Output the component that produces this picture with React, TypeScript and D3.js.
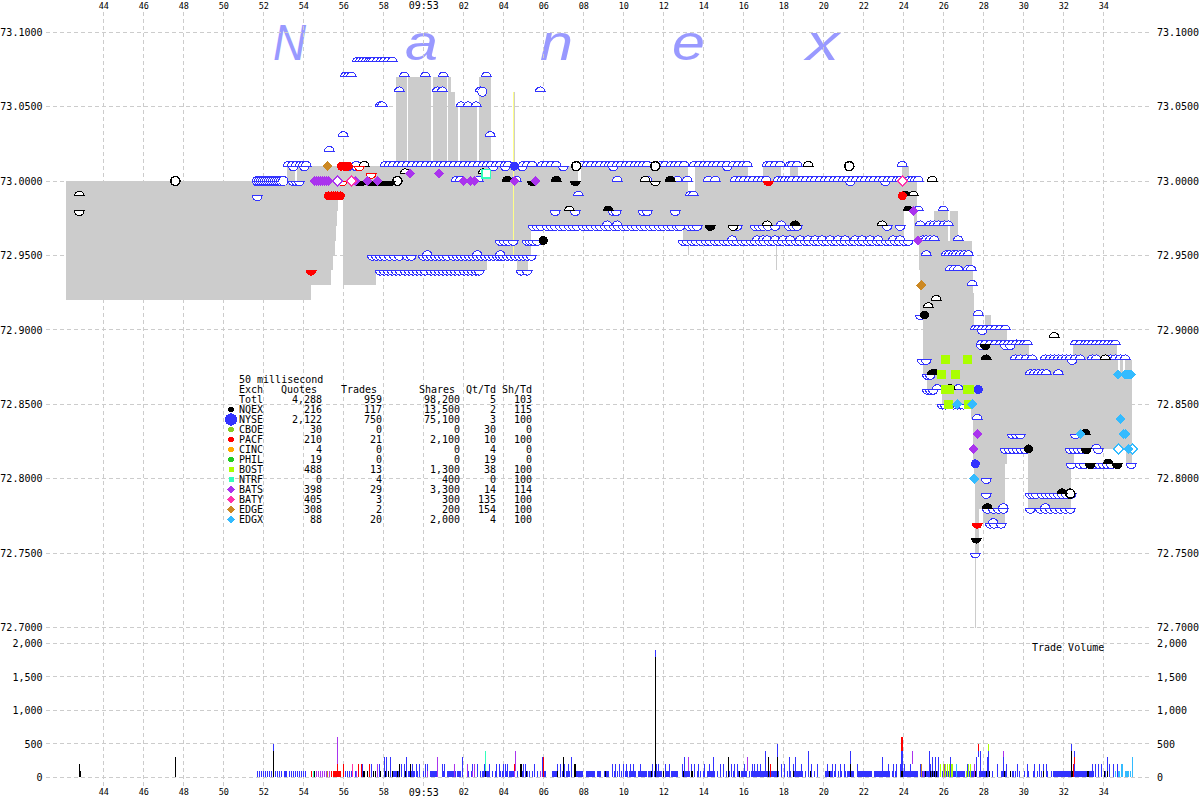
import React, { useEffect, useRef } from "react";
import * as d3 from "d3";

// time is seconds relative to 09:53:00, one pixel column = one 50 ms bucket
const timeTicks = [-16, -14, -12, -10, -8, -6, -4, -2, 0, 2, 4, 6, 8, 10, 12, 14, 16, 18, 20, 22, 24, 26, 28, 30, 32, 34];
const timeLabels = ["44", "46", "48", "50", "52", "54", "56", "58", "09:53", "02", "04", "06", "08", "10", "12", "14", "16", "18", "20", "22", "24", "26", "28", "30", "32", "34"];
const priceTicks = [73.1, 73.05, 73.0, 72.95, 72.9, 72.85, 72.8, 72.75, 72.7];
const volumeTicks = [2000, 1500, 1000, 500, 0];

// best ask / best bid steps
const askSteps: [number, number][] = [
  [-17.85, 73.0], [-6.82, 73.01], [-6.42, 73.0], [-6.32, 73.01], [-1.37, 73.07], [-0.82, 73.01], [-0.77, 73.07],
  [0.38, 73.01], [0.48, 73.07], [1.18, 73.01], [1.23, 73.07], [1.38, 73.06], [1.58, 73.05], [1.73, 73.01],
  [1.83, 73.05], [2.68, 73.01], [2.78, 73.07], [3.38, 73.01], [7.73, 73.0], [7.88, 73.01], [13.23, 72.99],
  [13.58, 73.01], [16.23, 73.0], [16.98, 73.01], [17.88, 73.0], [18.33, 73.01], [18.73, 73.0], [23.93, 73.01],
  [24.28, 73.0], [24.68, 72.97], [25.53, 72.98], [26.23, 72.96], [26.33, 72.98], [26.73, 72.96], [27.43, 72.94],
  [27.5, 72.925], [27.55, 72.9], [28.1, 72.91], [28.4, 72.9], [29.2, 72.89], [30.3, 72.88], [32.5, 72.89],
  [34.7, 72.88], [34.75, 72.87], [34.85, 72.88], [35.0, 72.87], [35.1, 72.88],
];
const bidSteps: [number, number][] = [
  [-17.85, 72.92], [-5.62, 72.93], [-4.62, 72.94], [-4.52, 72.95], [-4.42, 72.96], [-4.37, 72.97], [-4.32, 72.98],
  [-4.25, 72.99], [-4.0, 72.93], [-2.35, 72.94], [3.18, 72.95], [4.68, 72.94], [5.23, 72.95], [5.38, 72.97],
  [12.98, 72.96], [24.03, 72.98], [24.53, 72.96], [24.78, 72.94], [24.83, 72.91], [24.98, 72.87], [25.18, 72.86],
  [25.93, 72.85], [27.4, 72.84], [27.48, 72.81], [27.53, 72.8], [27.6, 72.75], [27.77, 72.78], [28.0, 72.77],
  [29.1, 72.81], [29.17, 72.82], [30.25, 72.78], [32.4, 72.81], [32.55, 72.82], [35.15, 72.81],
];
const spreadEnd = 35.45;

// thin prints outside the spread: [time, low, high]
const spikes: [number, number, number][] = [[27.6, 72.7, 72.75], [13.25, 72.95, 72.96], [17.65, 72.94, 72.96], [26.4, 72.96, 72.98], [26.55, 72.96, 72.98], [4.55, 73.01, 73.06]];
const yellowPrint: [number, number, number] = [4.5, 72.95, 73.06];

const askQuotes: [number, number[]][] = [
  [73.08, [-3.3, -3.15, -3, -2.85, -2.7, -2.6, -2.5, -2.3, -2.1, -1.95, -1.75, -1.55]],
  [73.07, [-3.9, -3.75, -3.6, -0.95, 0.1, 1, 3.15]],
  [73.06, [-1.2, 0.7, 0.95, 2.85, 5.85]],
  [73.05, [-2.15, -2.05, 1.9, 2.25, 2.65]],
  [73.03, [-4, 3.35]],
  [73.02, [-4.7]],
  [73.01, [-6.75, -6.55, -6.35, -6.15, -6, -5.85, -3.35, -1.9, -1.7, -1.5, -1.25, -1.05, -0.8, -0.55, -0.3, -0.1, 0.15, 0.4, 0.6, 0.85, 1.05, 1.3, 1.55, 1.8, 2.05, 2.3, 2.5, 2.75, 3, 3.2, 3.4, 3.65, 3.85, 4.1, 4.25, 5, 5.2, 5.45, 5.95, 6.15, 6.4, 6.65, 7.95, 8.2, 8.4, 8.65, 8.85, 9.1, 9.3, 9.45, 9.7, 9.9, 10.15, 10.35, 10.6, 10.8, 11, 11.2, 11.9, 12.1, 12.4, 12.6, 12.8, 13.05, 13.55, 13.8, 14.05, 14.25, 14.5, 14.7, 14.95, 15.2, 15.5, 15.75, 16, 16.2, 17.2, 17.35, 17.6, 17.85, 18.35, 18.45, 18.7, 23.95]],
  [73.0, [-8.3, -8.2, -8.1, -8, -7.9, -7.8, -7.7, -7.6, -7.5, -7.4, -7.3, -7.2, -7.1, -7, 1.65, 1.85, 2.75, 4.65, 9.7, 11.2, 12.7, 13.2, 14.25, 14.6, 15.6, 15.85, 16.05, 16.3, 16.5, 16.75, 16.95, 17.15, 17.75, 17.95, 18.1, 18.3, 18.45, 18.7, 18.95, 19.15, 19.4, 19.6, 19.85, 20.1, 20.3, 20.55, 20.75, 21, 21.2, 21.45, 21.65, 21.9, 22.1, 22.35, 22.55, 22.8, 23, 23.25, 23.45, 23.7, 23.85, 24.3, 24.45, 24.6, 24.75]],
  [72.99, [7.75, 13.35, 13.5]],
  [72.98, [24.75, 26]],
  [72.97, [9.2, 9.7, 17.2, 17.9, 24.85, 25.35, 25.55, 25.75, 26.05, 26.25]],
  [72.96, [15.45, 16.7, 17, 17.2, 17.6, 18, 18.35, 18.85, 19.25, 19.6, 19.95, 20.35, 20.75, 21.1, 21.6, 21.95, 22.35, 22.75, 23.5, 23.85, 25, 25.15, 25.35, 25.55, 26.75]],
  [72.95, [0.2, 2.7, 3.85, 25.15, 26.15, 26.3, 26.5, 26.65, 26.85, 27.05, 27.25]],
  [72.94, [26.35, 26.55, 26.75, 27.25, 27.4]],
  [72.93, [27.45]],
  [72.91, [27.75]],
  [72.9, [27.6, 27.75, 27.95, 28.15, 28.35, 28.6, 28.85, 29.1]],
  [72.89, [27.9, 28.1, 28.35, 28.6, 28.85, 29.05, 29.25, 29.45, 29.65, 29.85, 30.05, 30.2, 32.6, 32.85, 33.1, 33.25, 33.45, 33.65, 33.85, 34.05, 34.25, 34.45, 34.6]],
  [72.88, [29.6, 29.85, 30.15, 30.45, 31.1, 31.35, 31.55, 31.75, 31.95, 32.15, 32.35, 32.6, 32.85, 33.45, 33.65, 34.35, 34.6, 34.85, 35.1]],
  [72.87, [30.35, 30.55, 30.75, 30.95, 31.15, 31.75]],
  [72.86, [25.7, 26.75]],
  [72.84, [27.7]],
  [72.82, [33.65]],
  [72.78, [29, 31.1]],
  [72.77, [28.5]],
];

const bidQuotes: [number, number[]][] = [
  [73.01, [-6.5, -5.95, -3.75, -3.35, 3.5, 4.1, 4.95, 7, 9.5, 15.2]],
  [73.0, [-6.5, -6.35, -6.2, -8.3, -8.2, -8.1, -8, -7.9, -7.8, -7.7, -7.6, -7.5, -7.4, -7.3, -7.2, -7.1, 21.35, 23.1]],
  [72.99, [-8.3]],
  [72.98, [6.6, 7.6, 9.5, 9.65, 11, 11.2, 12.6]],
  [72.97, [5.5, 5.7, 5.9, 6.2, 6.4, 6.6, 6.85, 7.05, 7.3, 7.5, 7.7, 8, 8.2, 8.4, 8.65, 8.85, 9.1, 9.3, 9.55, 9.75, 10, 10.2, 10.45, 10.65, 10.9, 11.1, 11.35, 11.55, 11.8, 12, 12.25, 12.45, 12.7, 12.85, 13.3, 13.5, 13.7, 15.5, 15.7, 16.6, 16.8, 17, 17.25, 17.6, 18.3, 18.5, 18.7, 23.2, 23.85]],
  [72.96, [3.85, 4.05, 4.25, 4.5, 5.2, 5.35, 5.5, 5.7, 13, 13.2, 13.45, 13.65, 13.9, 14.15, 14.35, 14.6, 14.8, 15.05, 15.25, 15.5, 15.7, 15.95, 16.15, 16.4, 16.6, 16.85, 17.05, 17.3, 17.5, 17.75, 17.95, 18.2, 18.4, 18.65, 18.85, 19.1, 19.3, 19.55, 19.75, 20, 20.2, 20.45, 20.65, 20.9, 21.1, 21.35, 21.55, 21.8, 22, 22.25, 22.45, 22.7, 22.9, 23.15, 23.35, 23.6, 23.8, 24.05, 24.25]],
  [72.95, [-2.55, -2.35, -2.15, -1.95, -1.7, -1.45, -1.2, -0.8, -0.6, 0, 0.2, 0.4, 0.6, 0.8, 1, 1.2, 1.5, 1.7, 1.9, 2.1, 2.3, 2.5, 2.7, 2.9, 3.1, 3.3, 3.5, 3.7, 3.85, 4, 4.2, 4.4, 4.6, 4.8, 5, 5.2, 5.4]],
  [72.94, [-2.15, -1.95, -1.75, -1.55, -1.35, -1.15, -0.9, -0.7, -0.5, -0.3, -0.1, 0.1, 0.4, 0.6, 0.8, 1, 1.2, 1.4, 1.6, 1.8, 2.05, 2.25, 2.45, 2.65, 2.8, 4.9, 5.2]],
  [72.91, [24.85]],
  [72.9, [27.95]],
  [72.89, [27.9, 29.1, 29.35]],
  [72.88, [24.95, 25.15, 32.45]],
  [72.87, [25.2, 25.35]],
  [72.86, [25.2, 25.35, 25.5]],
  [72.85, [25.95, 26.1, 26.5, 26.7, 26.85, 27]],
  [72.83, [29.45, 29.65, 29.85, 32.6]],
  [72.82, [29.1, 29.3, 29.5, 29.7, 29.9, 30.1, 32.35, 32.55, 32.75, 32.95, 33.75]],
  [72.81, [32.4, 32.85, 33.05, 33.6, 33.8, 34, 34.2, 34.4, 35.4]],
  [72.8, [28.15]],
  [72.79, [28.15, 30.35, 30.5, 30.65, 30.95, 31.15, 31.35, 31.55, 31.75, 31.95, 32.15, 32.4]],
  [72.78, [28.2, 28.5, 28.75, 29, 30.35, 30.85, 31.1, 31.35, 31.6, 31.85, 32.1, 32.35]],
  [72.77, [28.35, 28.55, 28.9]],
  [72.75, [27.6]],
];

// NQEX quotes and trades: [time, price]
const nqexAskOpen: [number, number][] = [[-17.2, 72.99], [-2.95, 73.01], [-0.9, 73.005], [3, 73.005], [7.3, 72.98], [11.1, 73], [17.2, 72.97], [22.95, 72.97], [19.25, 73.01], [25.45, 73], [24.5, 72.99], [25.65, 72.92], [25.25, 72.915], [31.55, 72.895], [34.1, 72.88]];
const nqexBidOpen: [number, number][] = [[-17.2, 72.98], [11.6, 73], [15.5, 72.97], [-2.6, 73]];
const nqexAskFilled: [number, number][] = [[4.2, 73], [6.65, 73], [12.35, 73], [9.25, 72.98], [18.6, 72.97], [24.1, 72.99], [24.25, 72.98], [28.15, 72.88], [25.45, 72.87], [25.6, 72.87], [26.35, 72.86], [28.2, 72.78], [31.95, 72.79], [33.1, 72.83], [34.25, 72.81]];
const nqexBidFilled: [number, number][] = [[-3.25, 73], [-3.1, 73], [-2.7, 73], [-2.55, 73], [-2.3, 73], [-2.2, 73], [-2.1, 73], [-2, 73], [-1.9, 73], [-1.8, 73], [-1.65, 73], [14.35, 72.97], [28.1, 72.89], [27.65, 72.76], [33.15, 72.82], [34.7, 72.81], [33.35, 72.81], [5.45, 73], [7.6, 73]];
const nqexDots: [number, number][] = [[25.05, 72.91], [6, 72.96], [30.25, 72.82]];
const nqexRings: [number, number][] = [[-12.4, 73], [-1.3, 73], [7.65, 73.01], [11.6, 73.01], [21.3, 73.01], [32.35, 72.79]];

// PACF
const pacfBidFilled: [number, number][] = [[-5.6, 72.94], [17.25, 73], [27.7, 72.77]];
const pacfBidOpen: [number, number][] = [[-4.05, 73], [-3.2, 73.01], [-2.6, 73.005]];
const pacfDots: [number, number][] = [[-4.75, 72.99], [-4.6, 72.99], [-4.5, 72.99], [-4.4, 72.99], [-4.3, 72.99], [-4.15, 72.99], [-4.1, 73.01], [-3.95, 73.01], [-3.85, 73.01], [-3.75, 73.01], [23.95, 72.99]];

// BATS, BATY, EDGE, EDGX, BOST, NTRF, NYSE trades
const batsTrades: [number, number][] = [[-5.45, 73], [-5.35, 73], [-5.25, 73], [-5.15, 73], [-5.05, 73], [-4.95, 73], [-4.85, 73], [-4.75, 73], [-3.4, 73], [-2.8, 73], [-2.3, 73], [-0.65, 73.005], [0.8, 73.005], [2, 73], [2.35, 73], [2.55, 73], [4.55, 73], [5.6, 73], [24.5, 72.98], [24.75, 72.96], [27.7, 72.83], [27.5, 72.82]];
const batsOpen: [number, number][] = [[-4.3, 73]];
const batyOpen: [number, number][] = [[-3.6, 73], [23.95, 73]];
const edgeTrades: [number, number][] = [[-4.8, 73.01], [24.9, 72.93]];
const edgxTrades: [number, number][] = [[34.75, 72.87], [35.1, 72.87], [35.2, 72.87], [35.3, 72.87], [35.4, 72.87], [34.85, 72.84], [32.85, 72.83], [35.0, 72.83], [35.1, 72.83], [35.25, 72.82], [27.45, 72.85], [27.55, 72.8], [26.7, 72.85]];
const edgxOpen: [number, number][] = [[34.75, 72.82], [35.45, 72.82]];
const bostTrades: [number, number][] = [[26.1, 72.88], [27.2, 72.88], [25.9, 72.87], [26.6, 72.87], [26.1, 72.86], [26.3, 72.86], [27.2, 72.86], [27.3, 72.86], [26.25, 72.85], [27.25, 72.85]];
const ntrfOpen: [number, number][] = [[3.15, 73.005]];
const nyseDots: [number, number][] = [[4.55, 73.01], [27.75, 72.86], [27.6, 72.81]];
const nyseRings: [number, number][] = [[2.95, 73.06], [-7, 73]];

// 100 share NYSE prints, one bucket each
const nyseTicks = [-8.3, -8.2, -8.1, -8, -7.9, -7.8, -7.7, -7.6, -7.4, -7.3, -7.2, -7.1, -6.7, -6.6, -6.5, -6.4, -6.3, -6.2, -6.1, -6, -5.9, -3.9, -3.8, -3.7, -3.6, -3.4, -3.05, -2.95, -2.8, -2.4, -1.9, -1.75, -0.9, -0.3, -0.2, 0, 0.2, 0.35, 1.0, 2.25, 2.4, 2.55, 2.7, 2.85, 3.45, 3.6, 3.85, 3.95, 4.15, 4.7, 4.85, 4.95, 5.1, 5.2, 5.3, 5.45, 5.55, 5.7, 5.85, 6.05, 6.1, 6.85, 6.95, 7.15, 7.25, 7.8, 7.95, 9.45, 9.55, 9.7, 9.8, 9.9, 10, 10.1, 10.2, 10.3, 11.55, 11.9, 12.1, 12.4, 13.4, 13.55, 13.7, 13.85, 14, 14.55, 14.7, 14.85, 15, 15.15, 15.3, 15.5, 15.75, 15.9, 16.05, 16.3, 16.4, 17.75, 18.05, 18.2, 18.35, 19.1, 19.25, 19.4, 19.55, 19.7, 20.55, 20.75, 20.9, 21.1, 21.3, 22.9, 23.1, 23.3, 23.45, 23.6, 25.0, 28.25, 28.45, 28.7, 28.9, 29.1, 29.6, 29.8, 30.05, 30.25, 30.5, 30.7, 30.9, 31.0, 31.2, 31.4, 33.6, 33.75, 33.9, 34.1, 34.3, 34.5];
// solid stretches of 100 share prints: [from, to]
const nyseRuns: [number, number][] = [[-6.95, -6.8], [-1.55, -1.2], [-0.75, -0.4], [0.4, 0.7], [1.2, 1.65], [1.7, 1.9], [2.95, 3.3], [4.3, 4.55], [6.45, 6.7], [7.15, 7.35], [7.55, 8.0], [8.15, 8.6], [8.7, 8.9], [9.05, 9.3], [10.35, 10.65], [10.75, 11.2], [11.25, 11.45], [11.65, 11.9], [12.15, 12.35], [12.45, 12.75], [13.0, 13.35], [14.2, 14.5], [15.9, 16.2], [16.45, 17.0], [17.0, 17.7], [18.5, 19.0], [20.1, 20.5], [21.2, 21.55], [21.75, 22.45], [22.55, 22.95], [23.0, 23.35], [23.95, 24.75], [24.95, 25.8], [25.95, 27.1], [27.2, 27.7], [27.8, 28.25], [28.95, 29.2], [29.45, 29.55], [31.5, 32.0], [32.0, 33.5], [33.5, 33.55]];
// taller NYSE prints: [time, shares]
const nyseTall: [number, number][] = [[-3.05, 200], [-2.6, 200], [-2.2, 200], [-1.95, 300], [-1.85, 300], [-1.65, 300], [-1.1, 200], [-0.95, 200], [-0.85, 300], [-0.55, 200], [-0.35, 200], [-0.2, 200], [0.1, 200], [0.2, 200], [0.95, 200], [1.05, 200], [1.95, 300], [2.45, 200], [2.7, 200], [3.05, 200], [3.3, 200], [3.65, 200], [3.8, 200], [4.0, 200], [4.1, 200], [4.2, 200], [4.9, 200], [5.0, 200], [5.1, 200], [5.55, 200], [5.95, 300], [6.7, 200], [6.85, 200], [7.05, 200], [7.25, 200], [7.4, 300], [9.45, 200], [9.6, 200], [9.8, 200], [10, 200], [10.15, 200], [10.35, 200], [10.5, 200], [10.85, 200], [11.45, 200], [11.65, 200], [11.75, 200], [12.1, 200], [12.3, 200], [12.95, 200], [13.05, 300], [13.4, 200], [13.55, 200], [13.75, 200], [14.05, 200], [14.3, 200], [14.5, 300], [14.85, 200], [15, 200], [15.4, 200], [15.55, 200], [15.7, 200], [16.05, 200], [16.45, 200], [16.55, 200], [16.7, 200], [16.85, 200], [17.1, 400], [17.7, 500], [17.9, 200], [18.05, 200], [18.3, 300], [18.5, 200], [18.6, 300], [18.9, 200], [19.25, 400], [19.4, 200], [19.7, 200], [20.2, 200], [20.45, 200], [20.6, 200], [20.85, 200], [21.05, 200], [21.35, 400], [21.7, 200], [22.95, 300], [23.25, 200], [23.5, 200], [23.65, 200], [23.85, 200], [24.05, 200], [24.35, 200], [24.85, 200], [25.3, 400], [25.45, 300], [25.6, 300], [25.75, 300], [25.35, 200], [26.35, 300], [27.2, 200], [27.65, 300], [27.85, 400], [28.2, 300], [28.7, 200], [29.0, 300], [29.15, 200], [29.7, 200], [30.2, 200], [30.55, 200], [30.8, 200], [31.0, 200], [31.15, 200], [32.4, 500], [32.55, 400], [33.45, 200], [33.6, 200], [33.75, 200], [33.9, 200], [34.2, 300], [34.3, 200], [34.5, 200], [34.7, 200], [34.95, 200]];
// coloured or black slices of a bar: [time, from shares, to shares, exchange]
const barSlices: [number, number, number, string][] = [
  [-17.2, 0, 200, "NQEX"], [-17.15, 0, 100, "NQEX"], [-12.4, 0, 300, "NQEX"], [-7.5, 0, 400, "NQEX"], [-7.5, 400, 500, "NYSE"],
  [-5.6, 0, 100, "PACF"], [-5.5, 0, 100, "NTRF"], [-5.45, 0, 100, "NQEX"], [-5.35, 0, 100, "BATS"], [-5.25, 0, 100, "BATS"], [-5.15, 0, 100, "BATS"], [-5.05, 0, 100, "BATS"], [-4.95, 0, 100, "BATS"], [-4.85, 0, 100, "BATS"], [-4.8, 0, 100, "EDGE"], [-4.7, 0, 100, "BATS"], [-4.6, 0, 100, "PACF"],
  [-4.5, 0, 100, "PACF"], [-4.45, 0, 100, "PACF"], [-4.4, 0, 100, "PACF"], [-4.35, 0, 100, "PACF"], [-4.3, 0, 200, "PACF"], [-4.3, 200, 600, "BATS"], [-4.25, 0, 100, "PACF"], [-4.2, 0, 100, "PACF"], [-4.15, 0, 100, "PACF"], [-4, 0, 200, "PACF"],
  [-3.55, 0, 200, "BATY"], [-3.35, 0, 100, "BATS"], [-3.25, 0, 200, "PACF"], [-3.1, 0, 200, "PACF"], [-3, 0, 100, "NQEX"], [-2.95, 0, 100, "NQEX"], [-2.8, 0, 100, "NQEX"], [-2.7, 0, 200, "PACF"], [-2.5, 0, 100, "NQEX"], [-2.4, 0, 100, "NQEX"], [-2.3, 0, 200, "BATS"], [-2.15, 0, 100, "NQEX"],
  [-1.9, 0, 100, "NQEX"], [-1.75, 0, 100, "NQEX"], [-1.55, 0, 100, "NQEX"], [-1.3, 0, 100, "NQEX"], [-1.2, 0, 200, "NQEX"], [-0.9, 0, 100, "NQEX"], [-0.65, 0, 200, "NQEX"], [0.2, 0, 100, "BATS"],
  [0.7, 0, 300, "BATS"], [1.55, 0, 200, "BATS"], [2.2, 0, 200, "BATS"], [2.45, 0, 100, "BATS"], [2.55, 0, 200, "BATS"], [3.1, 0, 100, "NQEX"], [3.1, 100, 400, "NTRF"], [4.55, 0, 100, "BATS"], [4.55, 100, 200, "PACF"], [4.6, 100, 400, "BATS"], [4.85, 0, 200, "NQEX"], [4.9, 0, 200, "NQEX"], [5.15, 0, 100, "NQEX"], [5.85, 0, 100, "BATS"], [6, 0, 300, "PACF"],
  [6.7, 0, 100, "NQEX"], [7, 0, 300, "NQEX"], [7.55, 0, 200, "NQEX"], [7.6, 0, 200, "NQEX"], [9.1, 0, 100, "NQEX"], [11.4, 0, 100, "NQEX"], [11.6, 0, 1800, "NQEX"], [11.6, 1800, 1900, "NYSE"], [12.0, 0, 100, "NQEX"], [13, 0, 100, "NQEX"], [13.25, 100, 300, "BATS"], [13.4, 0, 100, "NQEX"], [13.45, 0, 100, "NQEX"], [15.25, 0, 300, "NQEX"], [15.8, 0, 100, "NQEX"], [16.2, 100, 300, "BATS"], [17.25, 0, 300, "NQEX"], [17.35, 0, 200, "PACF"], [17.7, 0, 300, "NQEX"], [18.5, 0, 100, "NQEX"], [19.35, 0, 100, "NQEX"], [20.3, 0, 100, "NQEX"], [21.35, 0, 200, "NQEX"],
  [23.9, 0, 100, "NQEX"], [23.95, 0, 100, "NQEX"], [23.9, 400, 600, "PACF"], [23.95, 400, 600, "PACF"], [23.9, 100, 400, "NYSE"], [23.95, 100, 400, "NYSE"], [24.45, 200, 400, "BATS"], [24.9, 0, 200, "EDGE"], [25.0, 0, 100, "BATS"], [25.1, 0, 100, "NQEX"], [25.35, 0, 100, "NQEX"], [25.45, 0, 100, "NQEX"], [25.55, 0, 100, "NQEX"], [25.65, 0, 100, "NQEX"], [25.85, 0, 200, "BOST"], [26, 0, 200, "BOST"], [26.05, 0, 200, "BATS"], [26.1, 0, 200, "BOST"], [26.2, 0, 200, "BOST"], [26.3, 0, 200, "BOST"], [26.4, 0, 200, "BOST"], [26.45, 0, 200, "BOST"], [26.65, 0, 200, "EDGX"], [27.15, 0, 100, "BOST"], [27.25, 0, 200, "BOST"], [27.35, 0, 200, "BOST"], [27.55, 0, 200, "BATS"], [27.6, 0, 100, "NQEX"], [27.75, 400, 500, "PACF"], [27.75, 300, 400, "NYSE"], [28.15, 0, 100, "NQEX"], [28.25, 400, 500, "BOST"], [28.25, 0, 400, "NYSE"], [28.3, 0, 100, "NQEX"], [29, 300, 400, "BATS"], [29.05, 0, 100, "NQEX"],
  [29.35, 0, 100, "NQEX"], [31, 0, 100, "NQEX"], [32.4, 0, 400, "NQEX"], [32.4, 400, 500, "NYSE"], [32.45, 0, 100, "NQEX"], [32.55, 200, 300, "PACF"], [32.5, 0, 200, "PACF"], [33.2, 0, 100, "NQEX"], [33.25, 0, 100, "NQEX"], [34.05, 0, 100, "NQEX"], [34.2, 0, 100, "NQEX"], [34.6, 0, 100, "EDGX"], [34.75, 0, 100, "EDGX"], [34.8, 0, 100, "EDGX"], [34.9, 0, 200, "EDGX"], [34.95, 0, 200, "EDGX"], [35.1, 0, 100, "EDGX"], [35.15, 0, 100, "EDGX"], [35.2, 0, 100, "EDGX"], [35.25, 0, 100, "EDGX"], [35.35, 0, 100, "EDGX"], [35.45, 0, 300, "EDGX"],
];

// legend table
const legendExch = ["Totl", "NQEX", "NYSE", "CBOE", "PACF", "CINC", "PHIL", "BOST", "NTRF", "BATS", "BATY", "EDGE", "EDGX"];
const legendQuotes = ["4,288", "216", "2,122", "30", "210", "4", "19", "488", "0", "398", "405", "308", "88"];
const legendTrades = ["959", "117", "750", "0", "21", "0", "0", "13", "4", "29", "3", "2", "20"];
const legendShares = ["98,200", "13,500", "75,100", "0", "2,100", "0", "0", "1,300", "400", "3,300", "300", "200", "2,000"];
const legendQtTd = ["5", "2", "3", "30", "10", "4", "19", "38", "0", "14", "135", "154", "4"];
const legendShTd = ["103", "115", "100", "0", "100", "0", "0", "100", "100", "114", "100", "100", "100"];

const exchColor: Record<string, string> = {
  NQEX: "#000000", NYSE: "#3333ff", CBOE: "#88cc22", PACF: "#ff0000", CINC: "#ffaa00", PHIL: "#22cc22",
  BOST: "#aaff00", NTRF: "#33ffbb", BATS: "#aa33ee", BATY: "#ff33aa", EDGE: "#cc8822", EDGX: "#33bbff",
};
const legendShape: Record<string, string> = { BOST: "square", NTRF: "square", BATS: "diamond", BATY: "diamond", EDGE: "diamond", EDGX: "diamond" };

const mono = "'DejaVu Sans Mono', monospace";

const App = () => {
  const ref = useRef<SVGSVGElement | null>(null);

  useEffect(() => {
    const svg = d3.select(ref.current);
    svg.selectAll("*").remove();

    const x = d3.scaleLinear().domain([-21, 36]).range([3.3, 1143.3]);
    const y = d3.scaleLinear().domain([72.7, 73.1]).range([627.6, 32.2]);
    const yVol = d3.scaleLinear().domain([0, 2000]).range([777.3, 643.3]);
    const left = 46;
    const right = 1152;

    // watermark
    const wordmark = svg.append("g").attr("fill", "#9999ff").attr("font-family", "'Liberation Sans'").attr("font-style", "italic").attr("font-size", 50);
    [["N", 273], ["a", 405], ["n", 540], ["e", 672], ["x", 806]].forEach(([t, px]) => {
      wordmark.append("text").attr("x", px as number).attr("y", 60).attr("textLength", 33).attr("lengthAdjust", "spacingAndGlyphs").text(t as string);
    });

    // grid
    const grid = svg.append("g").attr("stroke", "#cccccc").attr("stroke-dasharray", "4 3").attr("shape-rendering", "crispEdges");
    grid.selectAll(".v").data(timeTicks).enter().append("line").attr("x1", (d) => x(d)).attr("x2", (d) => x(d)).attr("y1", 12).attr("y2", 788)
      .attr("stroke-dasharray", (d) => (d === 0 ? null : "4 3")).attr("stroke-width", (d) => (d === 0 ? 1.5 : 1));
    grid.selectAll(".h").data(priceTicks).enter().append("line").attr("x1", left).attr("x2", right).attr("y1", (d) => y(d)).attr("y2", (d) => y(d));
    grid.selectAll(".hv").data(volumeTicks).enter().append("line").attr("x1", left).attr("x2", right).attr("y1", (d) => yVol(d)).attr("y2", (d) => yVol(d));

    // spread
    const times = Array.from(new Set([...askSteps.map((d) => d[0]), ...bidSteps.map((d) => d[0]), spreadEnd])).sort((a, b) => a - b);
    const lastBefore = (steps: [number, number][], t: number) => steps[d3.bisectRight(steps.map((s) => s[0]), t) - 1][1];
    const area = d3.area<number>().x((t) => x(t)).y0((t) => y(lastBefore(bidSteps, t))).y1((t) => y(lastBefore(askSteps, t))).curve(d3.curveStepAfter);
    svg.append("path").datum(times).attr("d", area).attr("fill", "#cccccc").attr("shape-rendering", "crispEdges");
    svg.selectAll(".spike").data(spikes).enter().append("line").attr("x1", (d) => x(d[0])).attr("x2", (d) => x(d[0])).attr("y1", (d) => y(d[1])).attr("y2", (d) => y(d[2])).attr("stroke", "#cccccc").attr("shape-rendering", "crispEdges");
    svg.append("line").attr("x1", x(yellowPrint[0])).attr("x2", x(yellowPrint[0])).attr("y1", y(yellowPrint[1])).attr("y2", y(yellowPrint[2])).attr("stroke", "#ffff88").attr("shape-rendering", "crispEdges");

    // markers
    const marks = svg.append("g").attr("shape-rendering", "crispEdges");
    const r = 4.8;
    const upHalf = d3.arc()({ innerRadius: 0, outerRadius: r, startAngle: -Math.PI / 2, endAngle: Math.PI / 2 } as any) as string;
    const downHalf = d3.arc()({ innerRadius: 0, outerRadius: r, startAngle: Math.PI / 2, endAngle: (3 * Math.PI) / 2 } as any) as string;
    const circle = d3.symbol(d3.symbolCircle, 64)() as string;
    const diamond = d3.symbol(d3.symbolDiamond2, 66)() as string;
    const square = d3.symbol(d3.symbolSquare, 72)() as string;
    const plot = (pts: [number, number][], shape: string, fill: string, stroke: string | null, width = 1) => {
      marks.append("g").selectAll("path").data(pts).enter().append("path")
        .attr("d", shape).attr("transform", (d) => `translate(${x(d[0])},${y(d[1])})`)
        .attr("fill", fill).attr("stroke", stroke).attr("stroke-width", width);
    };
    const flatten = (rows: [number, number[]][]) => rows.flatMap(([p, ts]) => ts.map((t) => [t, p] as [number, number]));

    plot(flatten(bidQuotes), downHalf, "#ffffff", exchColor.NYSE);
    plot(flatten(askQuotes), upHalf, "#ffffff", exchColor.NYSE);
    plot(nyseRings, circle, "#ffffff", exchColor.NYSE);
    plot(nqexAskOpen, upHalf, "#ffffff", exchColor.NQEX);
    plot(nqexBidOpen, downHalf, "#ffffff", exchColor.NQEX);
    plot(nqexRings, circle, "#ffffff", exchColor.NQEX, 1.6);
    plot(nqexAskFilled, upHalf, exchColor.NQEX, exchColor.NQEX);
    plot(nqexBidFilled, downHalf, exchColor.NQEX, exchColor.NQEX);
    plot(nqexDots, circle, exchColor.NQEX, null);
    plot(pacfBidOpen, downHalf, "#ffffff", exchColor.PACF);
    plot(pacfBidFilled, downHalf, exchColor.PACF, exchColor.PACF);
    plot(pacfDots, circle, exchColor.PACF, null);
    plot(bostTrades, square, exchColor.BOST, null);
    plot(ntrfOpen, square, "#ffffff", exchColor.NTRF, 1.5);
    plot(batsTrades, diamond, exchColor.BATS, null);
    plot(batsOpen, diamond, "#ffffff", exchColor.BATS, 1.5);
    plot(batyOpen, diamond, "#ffffff", exchColor.BATY, 1.5);
    plot(edgeTrades, diamond, exchColor.EDGE, null);
    plot(edgxOpen, diamond, "#ffffff", exchColor.EDGX, 1.5);
    plot(edgxTrades, diamond, exchColor.EDGX, null);
    plot(nyseDots, circle, exchColor.NYSE, null);

    // trade volume bars
    const bars = svg.append("g").attr("shape-rendering", "crispEdges");
    const bar = (t: number, from: number, to: number, color: string, w = 1) =>
      bars.append("rect").attr("x", Math.round(x(t))).attr("width", w).attr("y", yVol(to)).attr("height", yVol(from) - yVol(to)).attr("fill", color);
    nyseRuns.forEach(([a, b]) => bar(a, 0, 100, exchColor.NYSE, Math.max(1, Math.round(x(b) - x(a)))));
    nyseTicks.forEach((t) => bar(t, 0, 100, exchColor.NYSE));
    nyseTall.forEach(([t, v]) => bar(t, 0, v, exchColor.NYSE));
    barSlices.forEach(([t, a, b, e]) => bar(t, a, b, exchColor[e]));

    // axes, labels only
    const label = (g: d3.Selection<SVGGElement, unknown, null, undefined>, size: number) => {
      g.select(".domain").remove();
      g.selectAll("line").remove();
      g.selectAll("text").attr("font-family", mono).attr("font-size", size).attr("fill", "#000");
    };
    const priceFmt = d3.format(".4f");
    const volFmt = d3.format(",");
    const ax = svg as unknown as d3.Selection<SVGSVGElement, unknown, null, undefined>;
    ax.append("g").attr("transform", "translate(42.5,0)").call(d3.axisLeft(y).tickValues(priceTicks).tickSize(0).tickPadding(0).tickFormat((d) => priceFmt(d as number))).call(label as any, 10);
    ax.append("g").attr("transform", "translate(1157,0)").call(d3.axisRight(y).tickValues(priceTicks).tickSize(0).tickPadding(0).tickFormat((d) => priceFmt(d as number))).call(label as any, 10);
    ax.append("g").attr("transform", "translate(42.5,0)").call(d3.axisLeft(yVol).tickValues(volumeTicks).tickSize(0).tickPadding(0).tickFormat((d) => volFmt(d as number))).call(label as any, 10);
    ax.append("g").attr("transform", "translate(1157,0)").call(d3.axisRight(yVol).tickValues(volumeTicks).tickSize(0).tickPadding(0).tickFormat((d) => volFmt(d as number))).call(label as any, 10);
    const tickFmt = (d: d3.NumberValue) => timeLabels[timeTicks.indexOf(d as number)];
    const topAxis = ax.append("g").attr("transform", "translate(0,9)").call(d3.axisTop(x).tickValues(timeTicks).tickSize(0).tickPadding(0).tickFormat(tickFmt)).call(label as any, 8.5);
    const botAxis = ax.append("g").attr("transform", "translate(0,789)").call(d3.axisBottom(x).tickValues(timeTicks).tickSize(0).tickPadding(0).tickFormat(tickFmt)).call(label as any, 8.5);
    [topAxis, botAxis].forEach((a) => a.selectAll("text").filter((d) => d === 0).attr("font-size", 10));

    // legend
    const legend = svg.append("g").attr("font-family", mono).attr("font-size", 10).attr("fill", "#000");
    const row = (i: number) => 383 + i * 10;
    legend.append("text").attr("x", 239).attr("y", row(0)).text("50 millisecond");
    legend.append("text").attr("x", 239).attr("y", row(1)).text("Exch");
    const columns: [string, string[], number][] = [["Quotes", legendQuotes, 322], ["Trades", legendTrades, 382], ["Shares", legendShares, 460], ["Qt/Td", legendQtTd, 496], ["Sh/Td", legendShTd, 532]];
    const headerRight = [317, 377, 455, 496, 532];
    columns.forEach(([head, vals, px], c) => {
      legend.append("text").attr("x", headerRight[c]).attr("y", row(1)).attr("text-anchor", "end").text(head);
      vals.forEach((v, i) => legend.append("text").attr("x", px).attr("y", row(2 + i)).attr("text-anchor", "end").text(v));
    });
    legendExch.forEach((name, i) => {
      legend.append("text").attr("x", 239).attr("y", row(2 + i)).text(name);
      if (i === 0) return;
      const kind = legendShape[name];
      const big = name === "NYSE";
      const shape = kind === "square" ? d3.symbol(d3.symbolSquare, 25)() : kind === "diamond" ? d3.symbol(d3.symbolDiamond2, 36)() : d3.symbol(d3.symbolCircle, big ? 120 : 24)();
      legend.append("path").attr("d", shape as string).attr("transform", `translate(231,${row(2 + i) - 3.5})`).attr("fill", exchColor[name]).attr("shape-rendering", "crispEdges");
    });

    svg.append("text").attr("x", 1032).attr("y", 651).attr("font-family", mono).attr("font-size", 10).text("Trade Volume");
  }, []);

  return <svg ref={ref} width={1200} height={800} style={{ position: "absolute", left: 0, top: 0, background: "#ffffff" }} />;
};

export default App;
